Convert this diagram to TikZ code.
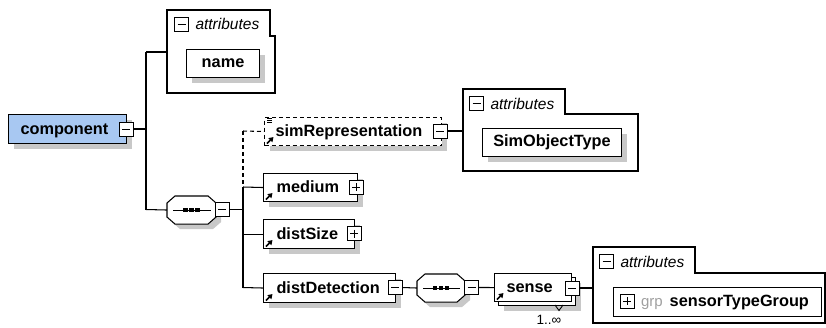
\documentclass[tikz,border=0pt]{standalone}
\usepackage{fontspec}
\setmainfont{Liberation Sans}
\usetikzlibrary{shadows,arrows.meta,calc}
\definecolor{shadowc}{RGB}{200,200,200}
\definecolor{compblue}{RGB}{168,200,242}
\definecolor{grpgray}{RGB}{160,160,160}
\newcommand\octa[1]{%
  \draw[fill=white, shad] ($(#1.north west)+(8,0)$) -- ($(#1.north east)+(-8,0)$) -- ($(#1.north east)+(0,7)$) -- ($(#1.south east)+(0,-7)$) -- ($(#1.south east)+(-8,0)$) -- ($(#1.south west)+(8,0)$) -- ($(#1.south west)+(0,-7)$) -- ($(#1.north west)+(0,7)$) -- cycle;
  \draw ($(#1.west)+(6,0)$) -- ($(#1.east)+(-5,0)$);
  \foreach \dx in {-6,0,6} {\fill ($(#1.center)+({\dx-2.2},-2.2)$) rectangle +(4.6,4.6);}
}
\newcommand\refarrow[1]{%
  \draw[-{Triangle[length=4.5pt,width=5.5pt]}, line width=1.6pt] ([shift={(3,-2.5)}]#1.south west) -- ++(6.5,-6.5);
}
\begin{document}
\begin{tikzpicture}[x=1pt,y=-1pt,line width=1.05pt,
  shad/.style={general shadow={fill=shadowc, shadow xshift=5pt, shadow yshift=-5pt}},
  box/.style={draw, fill=white, inner sep=0, anchor=north west},
  elem/.style={box, shad},
  lbl/.style={font=\fontsize{16.3}{19}\selectfont\bfseries, inner sep=0},
  ital/.style={font=\fontsize{15.5}{18}\selectfont\itshape, inner sep=0, anchor=west},
  tog/.style={draw, fill=white, inner sep=0, minimum width=14pt, minimum height=14pt, line width=0.95pt},
  minus/.style={tog, path picture={\draw[line width=0.95pt] ([xshift=3pt]path picture bounding box.west) -- ([xshift=-3pt]path picture bounding box.east);}},
  plus/.style={tog, path picture={\draw[line width=0.95pt] ([xshift=3pt]path picture bounding box.west) -- ([xshift=-3pt]path picture bounding box.east); \draw[line width=0.95pt] ([yshift=-3pt]path picture bounding box.north) -- ([yshift=3pt]path picture bounding box.south);}},
  panel/.style={inner sep=0, anchor=north west},
  dsh/.style={dash pattern=on 4pt off 3pt}
]
\useasboundingbox (0,0) rectangle (826,327);

% component
\node[elem, fill=compblue, minimum width=118pt, minimum height=29pt] (comp) at (8,114) {};
\node[lbl, anchor=base west] at ([xshift=12pt,yshift=-5pt]comp.west) {component};
\node[minus] (cmin) at (126,129) {};

% attributes panel 1
\node[panel, minimum width=108pt, minimum height=83pt] (attr1) at (167,10) {};
\draw (167,10) -- (270,10) -- (270,36) -- (275,36) -- (275,93) -- (167,93) -- cycle;
\node[minus] (a1min) at (181.5,24) {};
\node[ital] at ([xshift=6pt]a1min.east) {attributes};
\node[elem, minimum width=73pt, minimum height=28pt] (name) at (186,49) {};
\node[lbl] at (name.center) {name};

% trunk from component
\coordinate (tA) at (146,52);
\coordinate (tB) at (146,209.5);
\draw (cmin.east) -- (cmin.east -| tA);
\draw (tA) -- (tB);
\draw (tA) -- (tA -| attr1.west);

% sequence 1
\node[panel, minimum width=48pt, minimum height=27pt] (seq1) at (167,196) {};
\octa{seq1}
\draw (tB) -- (seq1.west);
\node[minus] (s1min) at (222,209.5) {};

% trunk 2
\coordinate (uA) at (243,131);
\coordinate (uB) at (243,187);
\coordinate (uC) at (243,287.5);
\draw (s1min.east) -- (s1min.east -| uA);
\draw[dsh] (uA) -- (uB);
\draw (uB) -- (uC);

% simRepresentation
\node[elem, dsh, minimum width=177pt, minimum height=28pt] (simrep) at (264,117) {};
\node[lbl, anchor=base west] at ([xshift=11pt,yshift=-5pt]simrep.west) {simRepresentation};
\refarrow{simrep}
\foreach \dy in {1.5,3.5,5.5} {\draw[line width=0.7pt] ([shift={(3,\dy)}]simrep.north west) -- ++(5,0);}
\node[minus] (srmin) at (440,131) {};
\draw[dsh] (uA) -- (simrep.west);

% attributes panel 2
\node[panel, minimum width=175pt, minimum height=82pt] (attr2) at (463,89) {};
\draw (463,89) -- (565,89) -- (565,114) -- (638,114) -- (638,171) -- (463,171) -- cycle;
\node[minus] (a2min) at (476.5,103.5) {};
\node[ital] at ([xshift=6pt]a2min.east) {attributes};
\node[elem, minimum width=139pt, minimum height=28pt] (sot) at (482,128) {};
\node[lbl] at (sot.center) {SimObjectType};
\draw (srmin.east) -- (srmin.east -| attr2.west);

% medium
\node[elem, minimum width=94pt, minimum height=28pt] (medium) at (263,173) {};
\node[lbl, anchor=base west] at ([xshift=13pt,yshift=-5pt]medium.west) {medium};
\refarrow{medium}
\node[plus] at (356,187) {};
\draw (uB) -- (medium.west);

% distSize
\node[elem, minimum width=91pt, minimum height=29pt] (distsize) at (263,219) {};
\node[lbl, anchor=base west] at ([xshift=13pt,yshift=-5pt]distsize.west) {distSize};
\refarrow{distsize}
\node[plus] at (354,233.5) {};
\draw (uB |- distsize.west) -- (distsize.west);

% distDetection
\node[elem, minimum width=132pt, minimum height=29pt] (distdet) at (263,273) {};
\node[lbl, anchor=base west] at ([xshift=13pt,yshift=-5pt]distdet.west) {distDetection};
\refarrow{distdet}
\node[minus] (ddmin) at (395,287.5) {};
\draw (uC) -- (distdet.west);

% sequence 2
\node[panel, minimum width=47pt, minimum height=27pt] (seq2) at (417,274) {};
\octa{seq2}
\draw (ddmin.east) -- (seq2.west);
\node[minus] (s2min) at (471.5,287.5) {};

% sense
\node[elem, minimum width=77pt, minimum height=28pt] (senseback) at (498,277) {};
\node[box, minimum width=77pt, minimum height=28pt] (sense) at (494,273) {};
\node[lbl, anchor=base west] at ([xshift=12pt,yshift=-5pt]sense.west) {sense};
\refarrow{sense}
\node[minus] (semin) at (572,288) {};
\draw (s2min.east) -- (sense.west);
\draw[line width=0.9pt] (555,305) -- (559,310.5) -- (563,305);
\node[inner sep=0, font=\fontsize{13.5}{15}\selectfont] (card) at (549,320) {1..∞};

% attributes panel 3
\node[panel, minimum width=232pt, minimum height=76pt] (attr3) at (593,247) {};
\draw (593,247) -- (695,247) -- (695,273) -- (825,273) -- (825,323) -- (593,323) -- cycle;
\node[minus] (a3min) at (606.5,261.5) {};
\node[ital] at ([xshift=6pt]a3min.east) {attributes};
\draw (semin.east) -- (semin.east -| attr3.west);
\node[box, minimum width=208pt, minimum height=29pt] (stg) at (613,287) {};
\node[plus] (stgplus) at (627,301) {};
\node[inner sep=0, anchor=base west, text=grpgray, font=\fontsize{15}{18}\selectfont] (grp) at ([xshift=6pt,yshift=-5pt]stgplus.west -| stgplus.east) {grp};
\node[lbl, anchor=base west] at ([xshift=6pt]grp.base east) {sensorTypeGroup};
\end{tikzpicture}
\end{document}
